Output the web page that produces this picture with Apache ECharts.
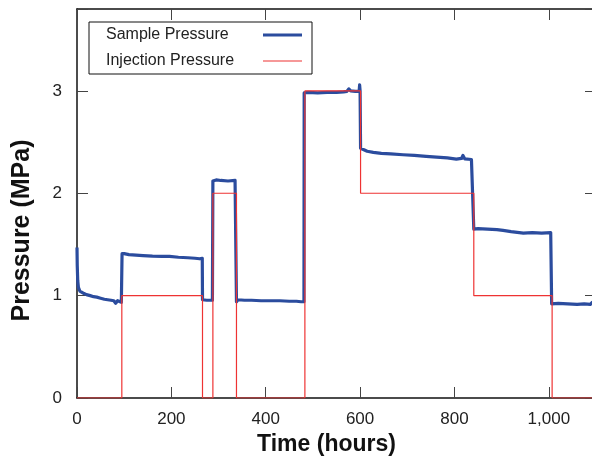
<!DOCTYPE html>
<html>
<head>
<meta charset="utf-8">
<script src="https://cdn.jsdelivr.net/npm/echarts@6/dist/echarts.min.js"></script>
<style>
html,body{margin:0;padding:0;background:#fff;}
#chart{width:592px;height:461px;}
</style>
</head>
<body>
<div id="chart"></div>
<script>
// ---- data ----
const seriesNames = ['Sample Pressure', 'Injection Pressure'];

const sampleTime = [0, 0.5, 1.5, 3, 6, 10, 15, 20, 28, 35, 42, 50, 58, 65, 72, 78, 80, 82, 86, 90, 94, 95,
  95.5, 100, 110, 125, 140, 160, 180, 196, 215, 235, 250, 260, 265.5,
  266, 275, 287,
  288, 295, 305, 320, 335, 337.5,
  338, 341, 355, 370, 390, 410, 430, 450, 465, 475, 481,
  481.5, 490, 510, 530, 550, 565, 572, 576, 580, 590, 598, 599, 600,
  601, 605, 615, 628, 645, 665, 691, 715, 740, 762, 785, 804, 815, 818, 822, 836, 840,
  841, 850, 870, 890, 903, 920, 946, 965, 985, 1004, 1005.5,
  1006, 1020, 1040, 1060, 1075, 1088, 1092, 1100];

const samplePressure = [1.47, 1.30, 1.15, 1.08, 1.045, 1.03, 1.02, 1.01, 1.0, 0.99, 0.985, 0.975, 0.965, 0.96, 0.955, 0.95, 0.94, 0.925, 0.95, 0.945, 0.935, 0.93,
  1.41, 1.41, 1.40, 1.395, 1.39, 1.385, 1.383, 1.383, 1.375, 1.37, 1.365, 1.36, 1.365,
  0.96, 0.955, 0.955,
  2.12, 2.13, 2.125, 2.12, 2.125, 2.115,
  0.94, 0.96, 0.955, 0.955, 0.95, 0.95, 0.95, 0.945, 0.945, 0.94, 0.94,
  2.98, 2.985, 2.98, 2.985, 2.985, 2.99, 2.995, 3.02, 3.0, 2.995, 2.995, 3.06, 3.0,
  2.44, 2.43, 2.41, 2.40, 2.39, 2.385, 2.376, 2.37, 2.36, 2.353, 2.345, 2.334, 2.34, 2.37, 2.335, 2.33, 2.33,
  1.65, 1.655, 1.65, 1.645, 1.637, 1.625, 1.61, 1.615, 1.61, 1.615, 1.615,
  0.92, 0.925, 0.92, 0.915, 0.92, 0.915, 0.935, 0.92];

const injectionTime = [0, 95, 95, 266, 266, 288, 288, 338, 338, 483, 483, 601, 601, 841, 841, 1007, 1007, 1100];
const injectionPressure = [0, 0, 1, 1, 0, 0, 2, 2, 0, 0, 3, 3, 2, 2, 1, 1, 0, 0];

const xTickLabels = ['0', '200', '400', '600', '800', '1,000'];
const yTickLabels = ['0', '1', '2', '3'];

// ---- chart ----
const FONT = '"Liberation Sans", Arial, Helvetica, sans-serif';
const BLUE = '#2b4c9e';
const RED = '#ee3333';
const chart = echarts.init(document.getElementById('chart'), null, {renderer: 'canvas'});

const zip = (a, b) => a.map((v, i) => [v, b[i]]);

const tickStyle = () => ({show: true, inside: true, length: 11, lineStyle: {color: '#444', width: 1}});
const lineStyleAxis = () => ({show: true, onZero: false, lineStyle: {color: '#111', width: 1.5}});

chart.setOption({
  animation: false,
  backgroundColor: '#fff',
  textStyle: {fontFamily: FONT},
  grid: {left: 77, top: 9, right: -4, bottom: 63, containLabel: false, outerBoundsMode: 'none'},
  legend: {
    left: 89, top: 22,
    orient: 'vertical',
    align: 'right',
    data: [
      {name: seriesNames[0], icon: 'path://M0,0H39V3.2H0Z'},
      {name: seriesNames[1], icon: 'path://M0,0H39V1.2H0Z'}
    ],
    itemWidth: 39, itemHeight: 14, itemGap: 10,
    padding: [5, 10, 5, 17],
    borderColor: '#111', borderWidth: 1,
    backgroundColor: '#fff',
    formatter: n => '{t|' + n + '}',
    textStyle: {
      fontSize: 16, color: '#222', fontFamily: FONT,
      rich: {t: {width: 152, align: 'left', fontSize: 16, color: '#222', fontFamily: FONT}}
    }
  },
  xAxis: [{
    type: 'value', min: 0, max: 1100, interval: 200,
    position: 'bottom',
    name: 'Time (hours)', nameLocation: 'middle', nameGap: 34,
    nameTextStyle: {fontSize: 23, fontWeight: 'bold', color: '#111', fontFamily: FONT, padding: [0, 20, 0, 0]},
    axisLine: lineStyleAxis(),
    axisTick: tickStyle(),
    splitLine: {show: false},
    axisLabel: {
      fontSize: 17, color: '#222', margin: 13, fontFamily: FONT,
      formatter: v => { const i = Math.round(v / 200); return (Math.abs(v - i * 200) < 1e-6 && xTickLabels[i]) ? xTickLabels[i] : ''; }
    }
  }, {
    type: 'value', min: 0, max: 1100, interval: 200,
    position: 'top',
    axisLine: lineStyleAxis(),
    axisTick: tickStyle(),
    axisLabel: {show: false},
    splitLine: {show: false}
  }],
  yAxis: [{
    type: 'value', min: 0, max: 3.8, interval: 1,
    position: 'left',
    name: 'Pressure (MPa)', nameLocation: 'middle', nameGap: 42,
    nameTextStyle: {fontSize: 25, fontWeight: 'bold', color: '#111', fontFamily: FONT, padding: [0, 54, 0, 0]},
    axisLine: lineStyleAxis(),
    axisTick: tickStyle(),
    splitLine: {show: false},
    axisLabel: {
      fontSize: 17, color: '#222', margin: 15, fontFamily: FONT,
      formatter: v => { const i = Math.round(v); return (Math.abs(v - i) < 1e-6 && yTickLabels[i]) ? yTickLabels[i] : ''; }
    }
  }, {
    type: 'value', min: 0, max: 3.8, interval: 1,
    position: 'right',
    axisLine: lineStyleAxis(),
    axisTick: tickStyle(),
    axisLabel: {show: false},
    splitLine: {show: false}
  }],
  series: [{
    name: seriesNames[0],
    type: 'line',
    data: zip(sampleTime, samplePressure),
    symbol: 'none',
    lineStyle: {color: BLUE, width: 3.2, join: 'round'},
    itemStyle: {color: BLUE},
    z: 3
  }, {
    name: seriesNames[1],
    type: 'line',
    data: zip(injectionTime, injectionPressure),
    symbol: 'none',
    lineStyle: {color: RED, width: 1.2},
    itemStyle: {color: RED},
    z: 4
  }]
});
</script>
</body>
</html>
